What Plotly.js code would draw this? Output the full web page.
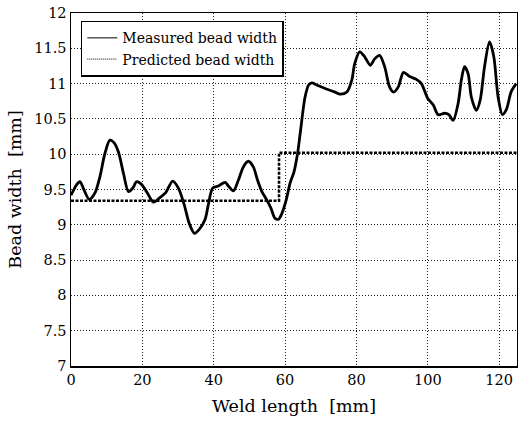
<!DOCTYPE html>
<html>
<head>
<meta charset="utf-8">
<script src="https://cdn.plot.ly/plotly-3.0.1.min.js"></script>
<style>html,body{margin:0;padding:0;background:#fff;}#chart{width:518px;height:421px;}</style>
</head>
<body>
<div id="chart"></div>
<script>
const weldLength = [0, 0.5, 1.6, 2.5, 3.6, 5.1, 6.7, 8.1, 9.5, 10.9, 12.1, 13.3, 14.7, 16.1, 17.3, 18.4, 19.8, 21.4, 23.1, 24.8, 26.6, 28.5, 30.1, 31.7, 33.2, 34.6, 36, 37.6, 38.5, 39.7, 41.3, 43.2, 44.1, 45.5, 46.9, 48.3, 49.7, 51.1, 52.3, 53.5, 54.9, 56, 57.2, 58.2, 59.1, 60.3, 61.4, 62.5, 63.5, 64.2, 65.6, 66.6, 67.5, 68.9, 71.2, 74, 75.4, 77.3, 78.7, 79.5, 80.9, 82.3, 83.9, 85.1, 86.5, 87.9, 89.3, 90.4, 91.7, 93.2, 94.9, 96.8, 98.2, 100, 101.5, 102.9, 104.7, 105.9, 107.1, 108.5, 109.4, 110.3, 111.3, 112.2, 113.6, 114.7, 115.9, 117.3, 118.5, 119.7, 120.9, 122, 123.4, 124.8];
const measuredWidth = [9.42, 9.47, 9.57, 9.61, 9.5, 9.36, 9.45, 9.68, 10.01, 10.2, 10.16, 10.03, 9.73, 9.47, 9.52, 9.61, 9.57, 9.45, 9.32, 9.38, 9.46, 9.62, 9.52, 9.29, 9.01, 8.88, 8.94, 9.08, 9.29, 9.52, 9.55, 9.6, 9.55, 9.48, 9.63, 9.82, 9.9, 9.82, 9.63, 9.47, 9.35, 9.24, 9.09, 9.08, 9.16, 9.35, 9.59, 9.75, 10.01, 10.28, 10.81, 10.98, 11.01, 10.98, 10.93, 10.88, 10.85, 10.88, 11.05, 11.28, 11.45, 11.38, 11.26, 11.35, 11.4, 11.24, 10.95, 10.88, 10.95, 11.16, 11.1, 11.06, 11.0, 10.79, 10.7, 10.56, 10.58, 10.56, 10.48, 10.72, 11.05, 11.24, 11.14, 10.81, 10.62, 10.77, 11.24, 11.59, 11.38, 10.81, 10.56, 10.63, 10.89, 11.0];
const predLength = [0, 58.3, 58.3, 125];
const predictedWidth = [9.34, 9.34, 10.02, 10.02];
const seriesNames = ['Measured bead width', 'Predicted bead width'];

const serif = "DejaVu Serif, Liberation Serif, serif";

const traces = [
  {x: weldLength, y: measuredWidth, mode: 'lines', name: seriesNames[0], showlegend: false,
   line: {color: '#000', width: 2.8, shape: 'spline', smoothing: 0.8}},
  {x: predLength, y: predictedWidth, mode: 'lines', name: seriesNames[1], showlegend: false,
   line: {color: '#000', width: 2.6, dash: '3px,1.5px'}},
  // legend-only entries with thin sample lines, as in the reference
  {x: [null], y: [null], mode: 'lines', name: seriesNames[0], line: {color: '#000', width: 1}},
  {x: [null], y: [null], mode: 'lines', name: seriesNames[1], line: {color: '#000', width: 1, dash: '1px,1px'}}
];

const axisCommon = {
  showline: true, linecolor: '#000', linewidth: 1.5, mirror: true,
  showgrid: true, gridcolor: '#222', gridwidth: 1, griddash: '1px,2px',
  zeroline: false, ticks: '', tickfont: {family: serif, size: 14.5, color: '#000'}
};

const layout = {
  width: 518, height: 421,
  margin: {l: 71, r: 1, t: 13, b: 55},
  paper_bgcolor: '#fff', plot_bgcolor: '#fff',
  font: {family: serif, color: '#000'},
  xaxis: Object.assign({}, axisCommon, {
    range: [0, 125], dtick: 20, tick0: 0,
    title: {text: 'Weld length  [mm]', font: {family: serif, size: 17.5, color: '#000'}, standoff: 13}
  }),
  yaxis: Object.assign({}, axisCommon, {
    range: [7, 12], dtick: 0.5, tick0: 7,
    title: {text: 'Bead width  [mm]', font: {family: serif, size: 17.5, color: '#000'}, standoff: 8}
  }),
  legend: {
    x: 0.022, y: 0.978, xanchor: 'left', yanchor: 'top',
    bgcolor: '#fff', bordercolor: '#000', borderwidth: 1.5,
    font: {family: serif, size: 14, color: '#000'},
    tracegroupgap: 0, itemwidth: 30
  },
  showlegend: true
};

Plotly.newPlot('chart', traces, layout, {displayModeBar: false, staticPlot: true});
</script>
</body>
</html>
